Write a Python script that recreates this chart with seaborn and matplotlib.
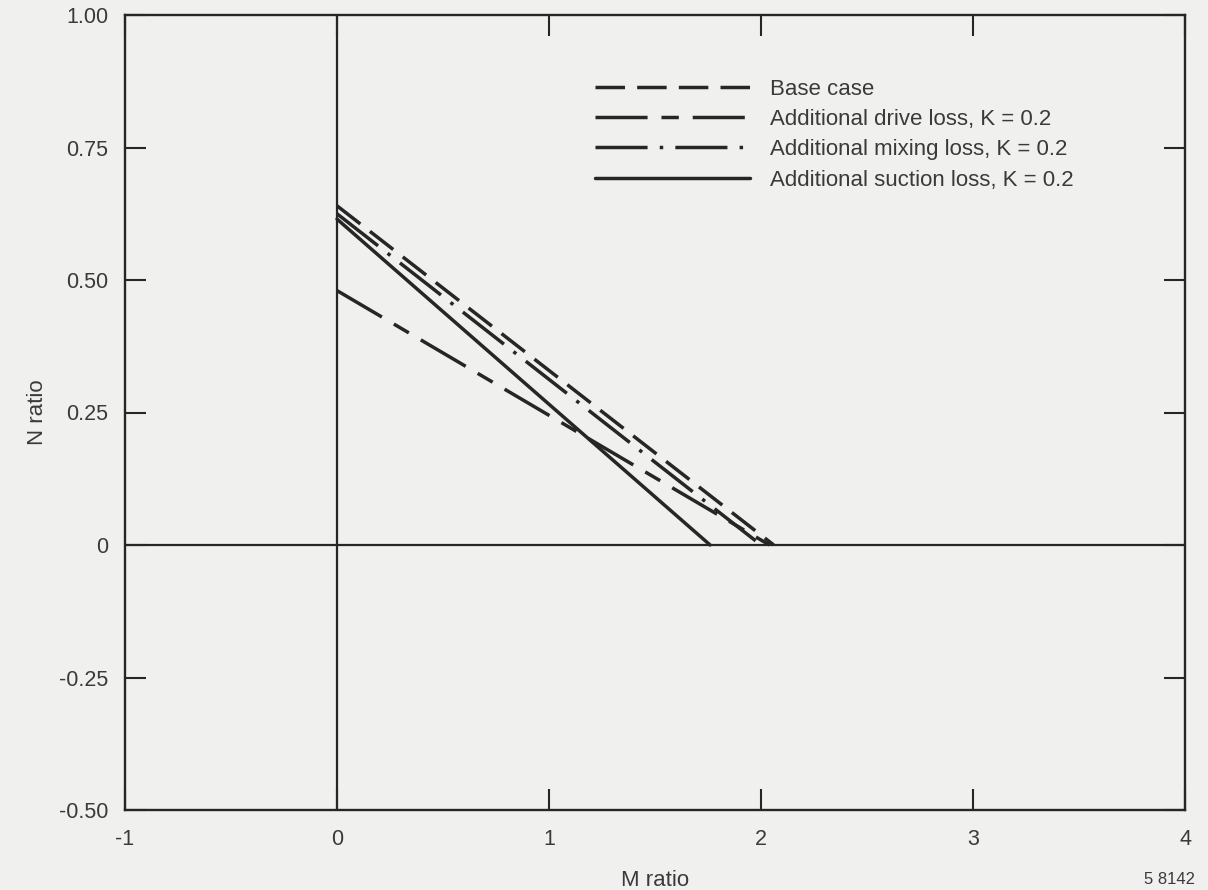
import matplotlib
matplotlib.use("Agg")
import matplotlib.pyplot as plt
import seaborn as sns
import pandas as pd

# ---- data ----
cases = ["Base case",
         "Additional drive loss, K = 0.2",
         "Additional mixing loss, K = 0.2",
         "Additional suction loss, K = 0.2"]
base_M = [0.0, 2.06]
base_N = [0.64, 0.0]
drive_M = [0.0, 2.04]
drive_N = [0.48, 0.0]
mixing_M = [0.0, 2.0]
mixing_N = [0.625, 0.0]
suction_M = [0.0, 1.76]
suction_N = [0.615, 0.0]

x_ticks = [-1, 0, 1, 2, 3, 4]
x_ticklabels = ["-1", "0", "1", "2", "3", "4"]
y_ticks = [1.0, 0.75, 0.5, 0.25, 0.0, -0.25, -0.5]
y_ticklabels = ["1.00", "0.75", "0.50", "0.25", "0", "-0.25", "-0.50"]

series = [(base_M, base_N), (drive_M, drive_N), (mixing_M, mixing_N), (suction_M, suction_N)]
styles = [(0, (8.5, 3.5)),
          (0, (15, 4, 5, 4)),
          (0, (15, 3.5, 1, 3.5)),
          "-"]

sns.set_theme(style="white")
plt.rcParams["font.family"] = ["Liberation Sans", "DejaVu Sans"]

ink = "#262626"
txt = "#3a3a3a"
bg = "#f0f0ee"

fig = plt.figure(figsize=(12.08, 8.90), dpi=100, facecolor=bg)
ax = fig.add_axes([125/1208, 1 - 810/890, 1060/1208, 795/890])
ax.set_facecolor(bg)

for (mx, ny), lab, ls in zip(series, cases, styles):
    df = pd.DataFrame({"M": mx, "N": ny})
    sns.lineplot(data=df, x="M", y="N", ax=ax, color=ink, linewidth=2.5,
                 linestyle=ls, label=lab, estimator=None, sort=False)

ax.axvline(0, color=ink, linewidth=1.6, zorder=1)
ax.axhline(0, color=ink, linewidth=1.6, zorder=1)

ax.set_xlim(-1, 4)
ax.set_ylim(-0.5, 1.0)
ax.set_xticks(x_ticks)
ax.set_xticklabels(x_ticklabels)
ax.set_yticks(y_ticks)
ax.set_yticklabels(y_ticklabels)

for s in ax.spines.values():
    s.set_visible(True)
    s.set_color(ink)
    s.set_linewidth(1.7)

ax.tick_params(axis="both", which="major", direction="in", length=15, width=1.5,
               color=ink, labelsize=15.5, labelcolor=txt,
               top=True, right=True, bottom=True, left=True)
ax.tick_params(axis="x", pad=14)
ax.tick_params(axis="y", pad=12)

ax.set_xlabel("M ratio", fontsize=16, color=txt, labelpad=14)
ax.set_ylabel("N ratio", fontsize=16, color=txt, labelpad=8)

leg = ax.legend(loc="upper left", bbox_to_anchor=(0.443, 0.92), frameon=False,
                fontsize=16, handlelength=7.0, handletextpad=0.9,
                labelspacing=0.42, borderpad=0, borderaxespad=0)
for t in leg.get_texts():
    t.set_color(txt)

fig.text(1170/1208, 1 - 880/890, "5 8142", fontsize=12, color=txt,
         ha="center", va="center")

fig.savefig("out.png", dpi=100, facecolor=bg)
